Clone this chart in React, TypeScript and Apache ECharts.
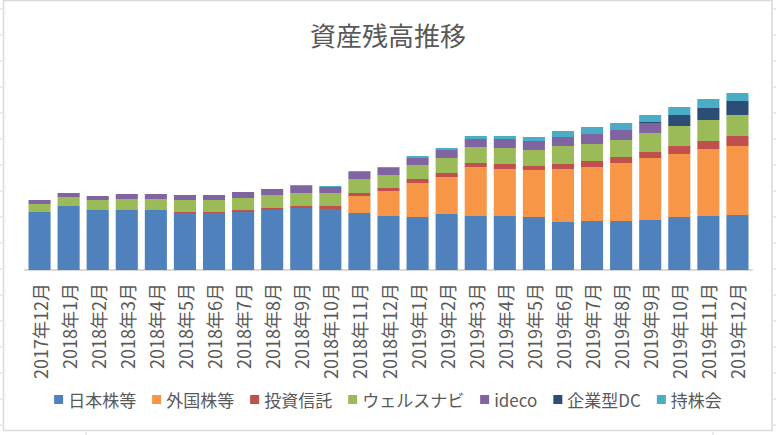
import React, { useEffect, useRef } from "react";
import * as echarts from "echarts";

const categories = [
  "2017年12月", "2018年1月", "2018年2月", "2018年3月", "2018年4月", "2018年5月",
  "2018年6月", "2018年7月", "2018年8月", "2018年9月", "2018年10月", "2018年11月",
  "2018年12月", "2019年1月", "2019年2月", "2019年3月", "2019年4月", "2019年5月",
  "2019年6月", "2019年7月", "2019年8月", "2019年9月", "2019年10月", "2019年11月",
  "2019年12月",
];

const japanStocks = [58, 64, 60, 60, 60, 57, 57, 58, 60, 62, 61, 57, 54, 53, 56, 54, 54, 53, 48, 49, 49, 50, 53, 54, 55];
const foreignStocks = [0, 0, 0, 0, 0, 0, 0, 0, 0, 0, 0, 17, 25, 34, 37, 49, 47, 47, 53, 54, 58, 62, 63, 67, 69];
const investmentTrusts = [0, 0, 0, 0, 0, 1, 1, 2, 2, 2, 3, 3, 3, 4, 4, 4, 5, 4, 5, 6, 6, 6, 8, 8, 10];
const wealthNavi = [8, 9, 10, 11, 11, 12, 12, 12, 13, 13, 13, 14, 13, 14, 15, 16, 16, 16, 18, 17, 17, 19, 20, 21, 21];
const ideco = [4, 4, 4, 5, 5, 5, 5, 6, 6, 7, 6, 7, 7, 7, 8, 8, 9, 9, 9, 10, 10, 10, 0, 0, 0];
const corporateDC = [0, 0, 0, 0, 0, 0, 0, 0, 0, 0, 0, 0, 0, 0, 0, 0, 0, 0, 0, 0, 0, 1, 11, 12, 14];
const employeeStock = [0, 0, 0, 0, 0, 0, 0, 0, 0, 1, 1, 1, 1, 2, 2, 3, 3, 4, 6, 7, 7, 7, 8, 9, 8];

const seriesNames = ["日本株等", "外国株等", "投資信託", "ウェルスナビ", "ideco", "企業型DC", "持株会"];
const seriesData = [japanStocks, foreignStocks, investmentTrusts, wealthNavi, ideco, corporateDC, employeeStock];
const seriesColors = ["#4F81BD", "#F79646", "#C0504D", "#9BBB59", "#8064A2", "#2C4D75", "#4BACC6"];

const FONT = "'Noto Sans CJK JP', 'Noto Sans', sans-serif";
const TEXT = "#595959";

export default function App() {
  const ref = useRef<HTMLDivElement>(null);

  useEffect(() => {
    document.body.style.margin = "0";
    const chart = echarts.init(ref.current!, null, { renderer: "svg" });

    const cellLines: any[] = [];
    for (let y = 9; y < 435; y += 26) {
      cellLines.push({ type: "line", shape: { x1: 0, y1: y, x2: 2.5, y2: y }, style: { stroke: "#D6D6D6", lineWidth: 1 }, silent: true });
      cellLines.push({ type: "line", shape: { x1: 773, y1: y, x2: 776, y2: y }, style: { stroke: "#D6D6D6", lineWidth: 1 }, silent: true });
    }
    [86, 713].forEach((x) => {
      cellLines.push({ type: "line", shape: { x1: x, y1: 432, x2: x, y2: 435 }, style: { stroke: "#D6D6D6", lineWidth: 1 }, silent: true });
    });

    chart.setOption({
      animation: false,
      backgroundColor: "#FFFFFF",
      textStyle: { fontFamily: FONT },
      title: {
        text: "資産残高推移",
        left: "center",
        top: 16,
        textStyle: { fontFamily: FONT, fontSize: 26, fontWeight: "normal", color: TEXT },
      },
      legend: {
        bottom: 22,
        left: "center",
        icon: "rect",
        itemWidth: 9,
        itemHeight: 9,
        itemGap: 16,
        textStyle: { fontFamily: FONT, fontSize: 17, color: TEXT },
        data: seriesNames,
      },
      graphic: [
        {
          type: "rect",
          shape: { x: 3.5, y: 0.5, width: 768.5, height: 430 },
          style: { fill: "none", stroke: "#D9D9D9", lineWidth: 1.5 },
          silent: true,
        },
        ...cellLines,
      ],
      grid: { left: 25, right: 24, top: 70, bottom: 165 },
      xAxis: {
        type: "category",
        data: categories,
        axisLine: { lineStyle: { color: "#D9D9D9", width: 2 } },
        axisTick: { show: false },
        axisLabel: {
          interval: 0,
          rotate: 90,
          margin: 13,
          fontFamily: FONT,
          fontSize: 18,
          color: TEXT,
        },
      },
      yAxis: {
        type: "value",
        min: 0,
        max: 200,
        show: false,
        splitLine: { show: false },
      },
      series: seriesNames.map((name, i) => ({
        name,
        type: "bar",
        stack: "total",
        data: seriesData[i],
        barCategoryGap: "24%",
        itemStyle: { color: seriesColors[i] },
      })),
    });

    return () => chart.dispose();
  }, []);

  return <div ref={ref} style={{ width: 776, height: 435 }} />;
}
